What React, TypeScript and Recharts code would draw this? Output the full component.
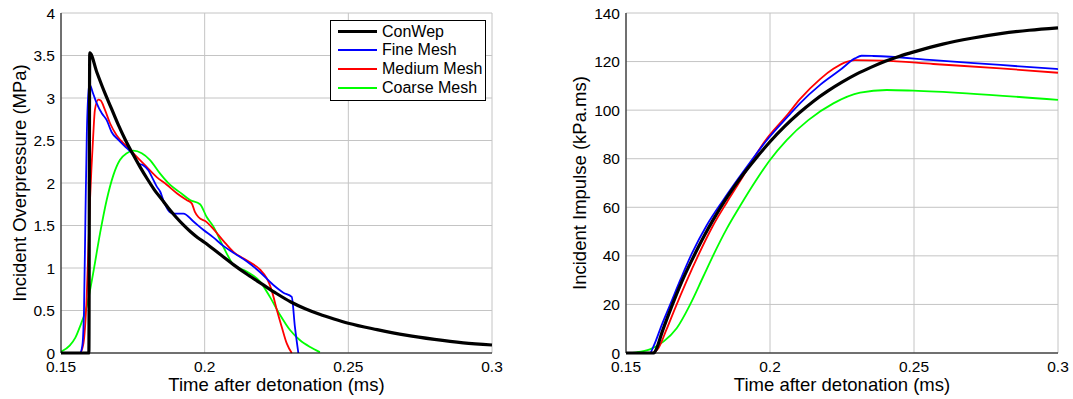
import React from 'react';
import { LineChart, Line, XAxis, YAxis, CartesianGrid } from 'recharts';

const FONT = '"Liberation Sans", Arial, Helvetica, sans-serif';

// ---- axes ----
const timeTicks = [0.15, 0.2, 0.25, 0.3];
const pressureTicks = [0, 0.5, 1, 1.5, 2, 2.5, 3, 3.5, 4];
const impulseTicks = [0, 20, 40, 60, 80, 100, 120, 140];

const xLabel = 'Time after detonation (ms)';
const pressureLabel = 'Incident Overpressure (MPa)';
const impulseLabel = 'Incident Impulse (kPa.ms)';

// ---- series ----
const seriesNames = ['ConWep', 'Fine Mesh', 'Medium Mesh', 'Coarse Mesh'];
const seriesColors = ['#000000', '#0000ff', '#ff0000', '#00ff00'];
const seriesWidths = [3.2, 1.8, 1.8, 1.8];

// Incident overpressure (MPa) vs time (ms): [t, p]
const conwepPressure = [
  [0.15, 0], [0.1597, 0], [0.16, 3.53], [0.1625, 3.3], [0.165, 3.08], [0.1675, 2.88], [0.17, 2.68],
  [0.1725, 2.5], [0.175, 2.34], [0.1775, 2.19], [0.18, 2.05], [0.1825, 1.92], [0.185, 1.81],
  [0.1875, 1.7], [0.19, 1.6], [0.1925, 1.51], [0.195, 1.43], [0.1975, 1.36], [0.2, 1.3],
  [0.205, 1.17], [0.21, 1.04], [0.215, 0.92], [0.22, 0.81], [0.225, 0.7], [0.23, 0.6],
  [0.235, 0.52], [0.24, 0.455], [0.245, 0.4], [0.25, 0.35], [0.26, 0.275], [0.27, 0.21],
  [0.28, 0.16], [0.29, 0.12], [0.3, 0.094],
];
const finePressure = [
  [0.15, 0], [0.1566, 0], [0.1574, 0.08], [0.158, 0.5], [0.1585, 1.6], [0.159, 2.6], [0.1598, 3.17],
  [0.1612, 3.05], [0.1624, 2.94], [0.1642, 2.82], [0.1659, 2.74], [0.1676, 2.6], [0.1699, 2.51],
  [0.1729, 2.41], [0.1752, 2.33], [0.1769, 2.23], [0.1786, 2.21], [0.1804, 2.15], [0.1821, 2.04],
  [0.1833, 1.96], [0.1845, 1.9], [0.1856, 1.8], [0.1873, 1.68], [0.1891, 1.64], [0.1926, 1.64],
  [0.196, 1.55], [0.1995, 1.45], [0.203, 1.36], [0.2065, 1.26], [0.21, 1.18], [0.2146, 1.08],
  [0.2193, 0.95], [0.2239, 0.8], [0.2274, 0.71], [0.2303, 0.66], [0.2314, 0.31], [0.2326, 0],
];
const mediumPressure = [
  [0.15, 0], [0.1566, 0], [0.1578, 0.11], [0.1589, 0.62], [0.1601, 1.8], [0.1612, 2.55], [0.1618, 2.86],
  [0.163, 2.98], [0.1638, 2.97], [0.1653, 2.86], [0.1671, 2.7], [0.1694, 2.56], [0.1729, 2.43],
  [0.1763, 2.31], [0.1798, 2.19], [0.1833, 2.07], [0.1868, 1.98], [0.1903, 1.88], [0.1937, 1.8],
  [0.1955, 1.76], [0.1966, 1.66], [0.1978, 1.6], [0.2007, 1.54], [0.203, 1.46], [0.2065, 1.32],
  [0.21, 1.19], [0.2146, 1.09], [0.2193, 0.98], [0.2216, 0.88], [0.2233, 0.74], [0.2251, 0.51],
  [0.2268, 0.31], [0.2286, 0.11], [0.2303, 0],
];
const coarsePressure = [
  [0.15, 0.015], [0.1531, 0.09], [0.155, 0.18], [0.1566, 0.31], [0.1589, 0.54], [0.1612, 0.94],
  [0.1636, 1.41], [0.1659, 1.8], [0.1682, 2.09], [0.1705, 2.27], [0.1729, 2.35], [0.1752, 2.38],
  [0.1781, 2.35], [0.181, 2.27], [0.1845, 2.11], [0.1879, 1.98], [0.1914, 1.89], [0.1949, 1.8],
  [0.1984, 1.75], [0.2007, 1.6], [0.203, 1.49], [0.2065, 1.25], [0.21, 1.04], [0.2146, 0.96],
  [0.2193, 0.84], [0.2227, 0.66], [0.2262, 0.45], [0.2297, 0.27], [0.2332, 0.15], [0.2367, 0.07],
  [0.2401, 0.01],
];

// Incident impulse (kPa.ms) vs time (ms): [t, i]
const conwepImpulse = [
  [0.15, 0], [0.1597, 0], [0.1605, 1.5], [0.1625, 8.5], [0.165, 16.5], [0.1675, 24], [0.17, 31],
  [0.1725, 37.3], [0.175, 43.3], [0.1775, 49], [0.18, 54.3], [0.185, 64], [0.19, 72.5], [0.195, 80],
  [0.2, 87], [0.205, 93.2], [0.21, 98.7], [0.215, 103.6], [0.22, 107.8], [0.225, 111.5], [0.23, 114.8],
  [0.235, 117.6], [0.24, 120.1], [0.245, 122.2], [0.25, 124], [0.26, 127.2], [0.27, 129.6],
  [0.28, 131.5], [0.29, 132.9], [0.3, 133.9],
];
const fineImpulse = [
  [0.15, 0], [0.1583, 0], [0.1595, 2.6], [0.1625, 11.8], [0.1653, 19.8], [0.169, 30.5], [0.1728, 40.8],
  [0.178, 52.5], [0.1838, 63], [0.1888, 71.5], [0.194, 80], [0.1986, 87.2], [0.2063, 97.5],
  [0.2104, 102.8], [0.2174, 110.4], [0.2243, 116.5], [0.2295, 121.3], [0.2318, 122.4], [0.2359, 122.3],
  [0.2567, 120.6], [0.28, 118.6], [0.3, 116.9],
];
const mediumImpulse = [
  [0.15, 0], [0.1588, 0], [0.1612, 1.9], [0.164, 9.5], [0.167, 18.3], [0.171, 29.5], [0.175, 40],
  [0.18, 52], [0.185, 62], [0.19, 71.5], [0.194, 79.5], [0.1979, 86.7], [0.2063, 98.5], [0.2104, 104.5],
  [0.2174, 112.8], [0.222, 117], [0.2266, 119.9], [0.2295, 120.6], [0.2393, 120.4], [0.2567, 119],
  [0.28, 117.2], [0.3, 115.4],
];
const coarseImpulse = [
  [0.15, 0], [0.1537, 0.3], [0.1583, 1.5], [0.163, 4.7], [0.1676, 10.2], [0.1722, 19.8], [0.1768, 31.4],
  [0.18, 39.5], [0.185, 51.2], [0.1896, 60.5], [0.195, 70.8], [0.2, 79.5], [0.2058, 87.7], [0.2133, 95.9],
  [0.222, 102.8], [0.2313, 107.2], [0.2405, 108.3], [0.2498, 108], [0.2683, 106.9], [0.3, 104.2],
];

const toRows = (pairs: number[][]) => pairs.map(([t, v]) => ({ t, v }));

const pressureSeries = [conwepPressure, finePressure, mediumPressure, coarsePressure].map(toRows);
const impulseSeries = [conwepImpulse, fineImpulse, mediumImpulse, coarseImpulse].map(toRows);

const GRID = '#c4c4c4';
const TICK_STYLE = { fill: '#000', fontSize: 15.5, fontFamily: FONT };

const makeXLabel = (text: string) => (props: any) => {
  const vb = props.viewBox || {};
  const cx = vb.x + vb.width / 2;
  const y = vb.y + 38;
  return (
    <text x={cx} y={y} textAnchor="middle" fill="#000" fontSize={18.5} fontFamily={FONT}>
      {text}
    </text>
  );
};

const makeYLabel = (text: string) => (props: any) => {
  const vb = props.viewBox || {};
  const cx = vb.x + 3.5;
  const cy = vb.y + vb.height / 2;
  return (
    <text
      x={cx}
      y={cy}
      transform={`rotate(-90 ${cx} ${cy})`}
      textAnchor="middle"
      dominantBaseline="central"
      fill="#000"
      fontSize={18.5}
      fontFamily={FONT}
    >
      {text}
    </text>
  );
};

type PanelProps = {
  width: number;
  height: number;
  margin: { top: number; right: number; bottom: number; left: number };
  yAxisWidth: number;
  yDomain: [number, number];
  yTicks: number[];
  yLabel: string;
  series: { t: number; v: number }[][];
};

function Panel({ width, height, margin, yAxisWidth, yDomain, yTicks, yLabel, series }: PanelProps) {
  const xDomain: [number, number] = [0.15, 0.3];
  return (
    <LineChart width={width} height={height} margin={margin}>
      <CartesianGrid stroke={GRID} strokeWidth={1} horizontal vertical />
      {/* inward tick marks and box */}
      <XAxis
        xAxisId="bin"
        type="number"
        dataKey="t"
        domain={xDomain}
        ticks={timeTicks}
        orientation="bottom"
        mirror
        height={0}
        tick={false}
        axisLine={false}
        tickLine={{ stroke: '#000' }}
        tickSize={4}
        interval={0}
      />
      <XAxis
        xAxisId="top"
        type="number"
        dataKey="t"
        domain={xDomain}
        ticks={timeTicks}
        orientation="top"
        mirror
        height={0}
        tick={false}
        axisLine={{ stroke: '#000' }}
        tickLine={{ stroke: '#000' }}
        tickSize={4}
        interval={0}
      />
      <XAxis
        type="number"
        dataKey="t"
        domain={xDomain}
        ticks={timeTicks}
        interval={0}
        height={40}
        tickLine={false}
        tickSize={5}
        tickMargin={3}
        axisLine={{ stroke: '#000' }}
        tick={TICK_STYLE}
        label={makeXLabel(xLabel)}
      />
      <YAxis
        yAxisId="lin"
        type="number"
        domain={yDomain}
        ticks={yTicks}
        orientation="left"
        mirror
        width={0}
        tick={false}
        axisLine={false}
        tickLine={{ stroke: '#000' }}
        tickSize={4}
        interval={0}
      />
      <YAxis
        yAxisId="right"
        type="number"
        domain={yDomain}
        ticks={yTicks}
        orientation="right"
        mirror
        width={0}
        tick={false}
        axisLine={{ stroke: '#000' }}
        tickLine={{ stroke: '#000' }}
        tickSize={4}
        interval={0}
      />
      <YAxis
        type="number"
        domain={yDomain}
        ticks={yTicks}
        interval={0}
        width={yAxisWidth}
        tickLine={false}
        tickSize={3}
        tickMargin={3}
        axisLine={{ stroke: '#000' }}
        tick={TICK_STYLE}
        label={makeYLabel(yLabel)}
      />
      {series.map((rows, i) => (
        <Line
          key={seriesNames[i]}
          data={rows}
          dataKey="v"
          name={seriesNames[i]}
          type="monotone"
          stroke={seriesColors[i]}
          strokeWidth={seriesWidths[i]}
          strokeLinejoin="round"
          dot={false}
          activeDot={false}
          isAnimationActive={false}
        />
      )).reverse()}
    </LineChart>
  );
}

function LegendBox() {
  return (
    <div
      style={{
        position: 'absolute',
        left: 330,
        top: 20,
        width: 156,
        height: 81,
        border: '1px solid #000',
        background: '#fff',
        boxSizing: 'border-box',
        fontFamily: FONT,
        fontSize: 16,
        color: '#000',
      }}
    >
      {seriesNames.map((name, i) => (
        <div
          key={name}
          style={{
            position: 'absolute',
            left: 7,
            top: 1.35 + i * 18.7,
            height: 18.7,
            display: 'flex',
            alignItems: 'center',
            whiteSpace: 'nowrap',
          }}
        >
          <div style={{ width: 39, height: seriesWidths[i], background: seriesColors[i] }} />
          <span style={{ marginLeft: 5, lineHeight: '18px' }}>{name}</span>
        </div>
      ))}
    </div>
  );
}

export default function App() {
  return (
    <div style={{ position: 'absolute', left: 0, top: 0, width: 1073, height: 399, background: '#fff' }}>
      <div style={{ position: 'absolute', left: 0, top: 0, width: 540, height: 399 }}>
        <Panel
          width={540}
          height={399}
          margin={{ top: 13, right: 48, bottom: 6, left: 16 }}
          yAxisWidth={45}
          yDomain={[0, 4]}
          yTicks={pressureTicks}
          yLabel={pressureLabel}
          series={pressureSeries}
        />
        <LegendBox />
      </div>
      <div style={{ position: 'absolute', left: 540, top: 0, width: 533, height: 399 }}>
        <Panel
          width={533}
          height={399}
          margin={{ top: 13, right: 15, bottom: 6, left: 36 }}
          yAxisWidth={50}
          yDomain={[0, 140]}
          yTicks={impulseTicks}
          yLabel={impulseLabel}
          series={impulseSeries}
        />
      </div>
    </div>
  );
}
